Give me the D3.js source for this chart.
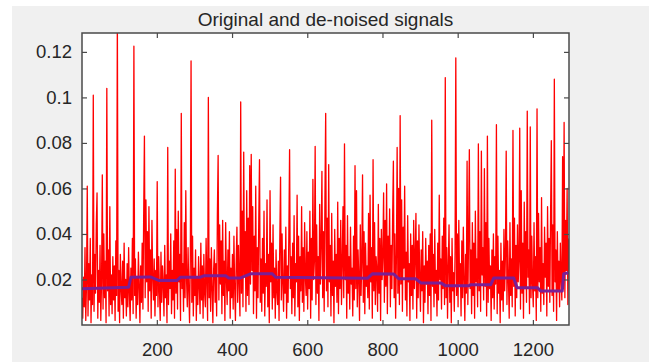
<!DOCTYPE html>
<html>
<head>
<meta charset="utf-8">
<script src="https://cdn.jsdelivr.net/npm/d3@7/dist/d3.min.js"></script>
<style>
  html, body { margin: 0; padding: 0; background: #ffffff; }
  svg { display: block; }
  text { font-family: "Liberation Sans", Arial, sans-serif; fill: #262626; }
</style>
</head>
<body>
<svg id="chart" width="649" height="362"></svg>
<script>
// ---- data ----------------------------------------------------------------
const chartTitle = "Original and de-noised signals";
const xTickValues = [200, 400, 600, 800, 1000, 1200];
const yTickValues = [0.02, 0.04, 0.06, 0.08, 0.1, 0.12];
const yTickLabels = ["0.02", "0.04", "0.06", "0.08", "0.1", "0.12"];
const xDomain = [1, 1296];
const yDomain = [0, 0.1283];

// Original (noisy) signal, one value every other sample starting at sample 1
const sampleStep = 2;
const signal = [
  0.012, 0.003, 0.021, 0.008, 0.034, 0.002, 0.018, 0.061, 0.004, 0.027, 0.011, 0.038, 0.001, 0.022, 0.009, 0.101, 0.006, 0.031, 0.014, 0.044,
  0.058, 0.003, 0.024, 0.010, 0.035, 0.002, 0.019, 0.066, 0.007, 0.040, 0.012, 0.028, 0.001, 0.104, 0.015, 0.033, 0.004, 0.052, 0.009, 0.022,
  0.005, 0.030, 0.011, 0.026, 0.002, 0.037, 0.013, 0.135, 0.006, 0.024, 0.001, 0.031, 0.016, 0.009, 0.028, 0.003, 0.036, 0.012, 0.020, 0.004,
  0.027, 0.008, 0.034, 0.014, 0.002, 0.025, 0.011, 0.038, 0.005, 0.1225, 0.013, 0.029, 0.003, 0.021, 0.009, 0.032, 0.017, 0.001, 0.026, 0.010,
  0.036, 0.007, 0.048, 0.083, 0.012, 0.055, 0.019, 0.041, 0.006, 0.052, 0.015, 0.033, 0.003, 0.046, 0.021, 0.011, 0.029, 0.004, 0.024, 0.013,
  0.063, 0.008, 0.030, 0.015, 0.002, 0.032, 0.010, 0.026, 0.018, 0.004, 0.035, 0.012, 0.022, 0.001, 0.078, 0.009, 0.028, 0.016, 0.040, 0.005,
  0.024, 0.011, 0.037, 0.003, 0.0685, 0.014, 0.042, 0.007, 0.050, 0.019, 0.031, 0.002, 0.093, 0.016, 0.027, 0.006, 0.045, 0.012, 0.059, 0.020,
  0.008, 0.034, 0.015, 0.001, 0.028, 0.116, 0.010, 0.039, 0.004, 0.025, 0.013, 0.033, 0.002, 0.021, 0.009, 0.030, 0.017, 0.005, 0.036, 0.011,
  0.026, 0.003, 0.031, 0.014, 0.008, 0.038, 0.019, 0.002, 0.100, 0.012, 0.029, 0.006, 0.034, 0.016, 0.001, 0.024, 0.033, 0.010, 0.027, 0.004,
  0.049, 0.0745, 0.011, 0.044, 0.018, 0.037, 0.005, 0.046, 0.013, 0.028, 0.002, 0.045, 0.020, 0.009, 0.033, 0.015, 0.041, 0.003, 0.025, 0.012,
  0.031, 0.007, 0.039, 0.016, 0.002, 0.027, 0.043, 0.010, 0.035, 0.019, 0.004, 0.098, 0.014, 0.050, 0.008, 0.076, 0.022, 0.041, 0.006, 0.059,
  0.013, 0.047, 0.009, 0.070, 0.018, 0.075, 0.024, 0.052, 0.005, 0.039, 0.015, 0.061, 0.003, 0.034, 0.012, 0.045, 0.0726, 0.010, 0.029, 0.006,
  0.038, 0.014, 0.050, 0.004, 0.027, 0.017, 0.055, 0.008, 0.031, 0.001, 0.059, 0.019, 0.036, 0.007, 0.044, 0.012, 0.025, 0.003, 0.033, 0.015,
  0.009, 0.028, 0.002, 0.037, 0.065, 0.011, 0.040, 0.018, 0.006, 0.033, 0.014, 0.043, 0.003, 0.026, 0.010, 0.039, 0.077, 0.016, 0.030, 0.005,
  0.036, 0.012, 0.048, 0.004, 0.027, 0.019, 0.057, 0.008, 0.039, 0.002, 0.030, 0.015, 0.052, 0.010, 0.034, 0.006, 0.045, 0.021, 0.013, 0.041,
  0.007, 0.032, 0.016, 0.050, 0.003, 0.038, 0.011, 0.064, 0.020, 0.028, 0.0785, 0.009, 0.044, 0.014, 0.030, 0.002, 0.053, 0.018, 0.036, 0.0675,
  0.012, 0.041, 0.006, 0.056, 0.093, 0.015, 0.047, 0.008, 0.0705, 0.019, 0.035, 0.004, 0.049, 0.013, 0.028, 0.001, 0.042, 0.017, 0.031, 0.010,
  0.054, 0.005, 0.038, 0.016, 0.046, 0.009, 0.027, 0.052, 0.012, 0.0796, 0.020, 0.035, 0.003, 0.048, 0.014, 0.030, 0.007, 0.043, 0.018, 0.025,
  0.004, 0.039, 0.011, 0.070, 0.016, 0.059, 0.008, 0.033, 0.021, 0.002, 0.044, 0.013, 0.028, 0.066, 0.010, 0.041, 0.005, 0.036, 0.017, 0.026,
  0.012, 0.049, 0.007, 0.057, 0.019, 0.034, 0.003, 0.0726, 0.015, 0.045, 0.009, 0.030, 0.024, 0.006, 0.053, 0.014, 0.038, 0.002, 0.042, 0.020,
  0.031, 0.058, 0.010, 0.046, 0.017, 0.062, 0.005, 0.039, 0.022, 0.051, 0.008, 0.035, 0.016, 0.047, 0.072, 0.012, 0.040, 0.003, 0.029, 0.078,
  0.014, 0.060, 0.009, 0.092, 0.018, 0.055, 0.006, 0.043, 0.025, 0.061, 0.011, 0.032, 0.004, 0.048, 0.019, 0.027, 0.002, 0.040, 0.013, 0.035,
  0.007, 0.046, 0.016, 0.030, 0.049, 0.003, 0.037, 0.012, 0.044, 0.021, 0.006, 0.033, 0.015, 0.041, 0.001, 0.026, 0.010, 0.038, 0.018, 0.028,
  0.005, 0.035, 0.013, 0.040, 0.002, 0.090, 0.017, 0.031, 0.008, 0.042, 0.014, 0.024, 0.004, 0.036, 0.011, 0.057, 0.020, 0.029, 0.007, 0.039,
  0.016, 0.047, 0.009, 0.1087, 0.012, 0.034, 0.003, 0.026, 0.044, 0.010, 0.030, 0.001, 0.038, 0.015, 0.023, 0.006, 0.032, 0.1174, 0.013, 0.040,
  0.008, 0.046, 0.018, 0.027, 0.004, 0.037, 0.012, 0.043, 0.020, 0.002, 0.031, 0.014, 0.072, 0.009, 0.040, 0.077, 0.016, 0.033, 0.005, 0.045,
  0.013, 0.036, 0.003, 0.050, 0.019, 0.029, 0.008, 0.0796, 0.015, 0.041, 0.006, 0.0764, 0.022, 0.034, 0.011, 0.0687, 0.017, 0.045, 0.004, 0.083,
  0.010, 0.038, 0.016, 0.026, 0.002, 0.033, 0.012, 0.040, 0.007, 0.030, 0.018, 0.088, 0.005, 0.039, 0.014, 0.024, 0.001, 0.036, 0.011, 0.028,
  0.006, 0.042, 0.015, 0.031, 0.0764, 0.009, 0.037, 0.020, 0.003, 0.045, 0.013, 0.029, 0.008, 0.0855, 0.017, 0.047, 0.004, 0.035, 0.012, 0.044,
  0.019, 0.028, 0.0865, 0.007, 0.059, 0.014, 0.036, 0.003, 0.054, 0.016, 0.041, 0.010, 0.094, 0.021, 0.033, 0.005, 0.087, 0.012, 0.039, 0.018,
  0.008, 0.045, 0.015, 0.030, 0.002, 0.095, 0.012, 0.049, 0.019, 0.034, 0.006, 0.056, 0.014, 0.027, 0.009, 0.043, 0.021, 0.036, 0.004, 0.052,
  0.017, 0.038, 0.010, 0.048, 0.081, 0.013, 0.044, 0.006, 0.108, 0.019, 0.033, 0.002, 0.041, 0.015, 0.028, 0.008, 0.036, 0.020, 0.011, 0.074,
  0.016, 0.089, 0.012, 0.046, 0.024, 0.060, 0.009, 0.038
];

// De-noised signal: level breakpoints (sample index, value)
const denoisedX = [1, 125, 131, 183, 205, 254, 263, 316, 325, 383, 391, 423, 449, 507, 516, 702, 760, 773, 830, 844,
                   888, 902, 955, 968, 1030, 1034, 1088, 1096, 1149, 1158, 1212, 1221, 1278, 1282, 1296];
const denoisedY = [0.0159, 0.0166, 0.0210, 0.0211, 0.0196, 0.0196, 0.0210, 0.0210, 0.0216, 0.0216, 0.0207, 0.0207, 0.0225, 0.0225, 0.0210, 0.0207, 0.0205, 0.0225, 0.0224, 0.0203,
                   0.0203, 0.0185, 0.0185, 0.0172, 0.0172, 0.0177, 0.0177, 0.0207, 0.0207, 0.0164, 0.0164, 0.0149, 0.0149, 0.0225, 0.0230];

// ---- layout --------------------------------------------------------------
const W = 649, H = 362;
const plot = { left: 82, right: 569, top: 33, bottom: 325 };
const tickLen = 5;
const axisColor = "#4a4a4a";

const svg = d3.select("#chart");

// figure background
svg.append("rect").attr("x", 0).attr("y", 0).attr("width", W).attr("height", H).attr("fill", "#ffffff");
svg.append("rect").attr("x", 12).attr("y", 6).attr("width", W - 12).attr("height", H - 6).attr("fill", "#f0f0f0");

const x = d3.scaleLinear().domain(xDomain).range([plot.left, plot.right]);
const y = d3.scaleLinear().domain(yDomain).range([plot.bottom, plot.top]);

// axes area
svg.append("rect")
  .attr("x", plot.left).attr("y", plot.top)
  .attr("width", plot.right - plot.left).attr("height", plot.bottom - plot.top)
  .attr("fill", "#ffffff");

svg.append("clipPath").attr("id", "plotClip")
  .append("rect")
  .attr("x", plot.left).attr("y", plot.top)
  .attr("width", plot.right - plot.left).attr("height", plot.bottom - plot.top);

const g = svg.append("g").attr("clip-path", "url(#plotClip)");

const signalPoints = signal.map((v, i) => [1 + i * sampleStep, v]);
g.append("path")
  .datum(signalPoints)
  .attr("fill", "none")
  .attr("stroke", "#ff0000")
  .attr("stroke-width", 1.3)
  .attr("stroke-linejoin", "round")
  .attr("d", d3.line().x(d => x(d[0])).y(d => y(d[1])));

const denoisedPoints = denoisedX.map((xv, i) => [xv, denoisedY[i]]);
g.append("path")
  .datum(denoisedPoints)
  .attr("fill", "none")
  .attr("stroke", "#7a1f96")
  .attr("stroke-width", 3)
  .attr("stroke-linejoin", "round")
  .attr("d", d3.line().x(d => x(d[0])).y(d => y(d[1])));

// axes with inward ticks on all four sides
const bottomAxis = d3.axisBottom(x).tickValues(xTickValues).tickSizeInner(-tickLen).tickSizeOuter(0).tickPadding(18)
  .tickFormat(d3.format("d"));
const topAxis = d3.axisTop(x).tickValues(xTickValues).tickSizeInner(-tickLen).tickSizeOuter(0).tickFormat("");
const leftAxis = d3.axisLeft(y).tickValues(yTickValues).tickSizeInner(-tickLen).tickSizeOuter(0).tickPadding(10)
  .tickFormat((d, i) => yTickLabels[i]);
const rightAxis = d3.axisRight(y).tickValues(yTickValues).tickSizeInner(-tickLen).tickSizeOuter(0).tickFormat("");

function styleAxis(sel) {
  sel.select(".domain").remove();
  sel.selectAll(".tick line").attr("stroke", axisColor).attr("stroke-width", 1.2);
  sel.selectAll(".tick text")
    .attr("fill", "#262626")
    .style("font-family", '"Liberation Sans", Arial, sans-serif')
    .style("font-size", "18.5px");
}

svg.append("g").attr("transform", `translate(0,${plot.bottom})`).call(bottomAxis).call(styleAxis);
svg.append("g").attr("transform", `translate(0,${plot.top})`).call(topAxis).call(styleAxis);
svg.append("g").attr("transform", `translate(${plot.left},0)`).call(leftAxis).call(styleAxis);
svg.append("g").attr("transform", `translate(${plot.right},0)`).call(rightAxis).call(styleAxis);

// box
svg.append("rect")
  .attr("x", plot.left).attr("y", plot.top)
  .attr("width", plot.right - plot.left).attr("height", plot.bottom - plot.top)
  .attr("fill", "none")
  .attr("stroke", axisColor)
  .attr("stroke-width", 1.5);

// title
svg.append("text")
  .attr("x", (plot.left + plot.right) / 2)
  .attr("y", 26)
  .attr("text-anchor", "middle")
  .style("font-size", "19px")
  .text(chartTitle);
</script>
</body>
</html>
